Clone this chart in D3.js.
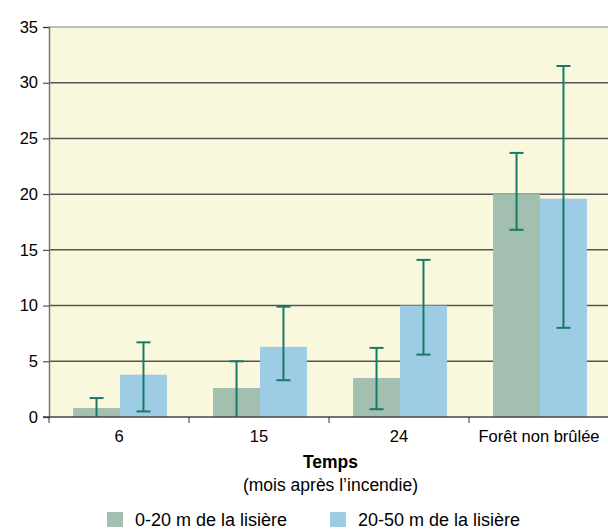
<!DOCTYPE html>
<html>
<head>
<meta charset="utf-8">
<script src="https://cdn.jsdelivr.net/npm/d3@7"></script>
<style>
  body { margin: 0; background: #fff; }
  svg { font-family: "Liberation Sans", Arial, Helvetica, sans-serif; }
</style>
</head>
<body>
<svg id="chart"></svg>
<script>
const categories = ["6", "15", "24", "Forêt non brûlée"];
const seriesNames = ["0-20 m de la lisière", "20-50 m de la lisière"];
const values0_20 = [0.8, 2.6, 3.5, 20.0];
const low0_20 = [0, 0, 0.7, 16.8];
const high0_20 = [1.7, 5.0, 6.2, 23.7];
const values20_50 = [3.8, 6.3, 10.0, 19.6];
const low20_50 = [0.5, 3.3, 5.6, 8.0];
const high20_50 = [6.7, 9.9, 14.1, 31.5];
const yTicks = [0, 5, 10, 15, 20, 25, 30, 35];

const width = 608;
const height = 529;
const margin = { top: 27, right: 0, bottom: 112, left: 49 };
const colors = ["#a3bfb0", "#9ecce4"];
const errColor = "#167a68";

const svg = d3.select("#chart")
    .attr("width", width)
    .attr("height", height);

const x = d3.scaleBand()
    .domain(categories)
    .range([margin.left, width - margin.right + 1])
    .paddingInner(0)
    .paddingOuter(0);

const x1 = d3.scaleBand()
    .domain(seriesNames)
    .range([2, x.bandwidth()])
    .paddingOuter(0.47)
    .paddingInner(0);

const y = d3.scaleLinear()
    .domain([0, 35])
    .range([height - margin.bottom, margin.top]);

// plot background
svg.append("rect")
    .attr("x", margin.left)
    .attr("y", y(35))
    .attr("width", width - margin.left)
    .attr("height", y(0) - y(35))
    .attr("fill", "#faf8dc");

// gridlines
svg.append("g")
    .selectAll("line")
    .data(yTicks.filter(d => d > 0))
    .join("line")
    .attr("x1", margin.left)
    .attr("x2", width)
    .attr("y1", d => y(d))
    .attr("y2", d => y(d))
    .attr("stroke", d => d === 35 ? "#aaa" : "#555")
    .attr("stroke-width", 1.5);

const data = categories.map((c, i) => ({
    cat: c,
    bars: [
        { s: seriesNames[0], v: values0_20[i], lo: low0_20[i], hi: high0_20[i], c: colors[0] },
        { s: seriesNames[1], v: values20_50[i], lo: low20_50[i], hi: high20_50[i], c: colors[1] }
    ]
}));

const groups = svg.append("g")
    .selectAll("g")
    .data(data)
    .join("g")
    .attr("transform", d => `translate(${x(d.cat)},0)`);

groups.selectAll("rect")
    .data(d => d.bars)
    .join("rect")
    .attr("x", d => x1(d.s))
    .attr("y", d => y(d.v))
    .attr("width", x1.bandwidth())
    .attr("height", d => y(0) - y(d.v))
    .attr("fill", d => d.c);

// error bars
const err = groups.selectAll("g.err")
    .data(d => d.bars)
    .join("g")
    .attr("class", "err")
    .attr("stroke", errColor)
    .attr("stroke-width", 2);

err.append("line")
    .attr("x1", d => x1(d.s) + x1.bandwidth() / 2)
    .attr("x2", d => x1(d.s) + x1.bandwidth() / 2)
    .attr("y1", d => y(d.lo))
    .attr("y2", d => y(d.hi));

err.append("line")
    .attr("x1", d => x1(d.s) + x1.bandwidth() / 2 - 7)
    .attr("x2", d => x1(d.s) + x1.bandwidth() / 2 + 7)
    .attr("y1", d => y(d.hi))
    .attr("y2", d => y(d.hi));

err.filter(d => d.lo > 0).append("line")
    .attr("x1", d => x1(d.s) + x1.bandwidth() / 2 - 7)
    .attr("x2", d => x1(d.s) + x1.bandwidth() / 2 + 7)
    .attr("y1", d => y(d.lo))
    .attr("y2", d => y(d.lo));

// y axis
const yAxis = svg.append("g")
    .attr("transform", `translate(${margin.left},0)`)
    .call(d3.axisLeft(y).tickValues(yTicks).tickSize(6).tickPadding(5));
yAxis.select(".domain").attr("stroke", "#777").attr("stroke-width", 1.5);
yAxis.selectAll(".tick line").attr("stroke", "#333");
yAxis.selectAll("text").attr("font-size", 16.5).attr("fill", "#000")
    .attr("font-family", "Liberation Sans, Arial, sans-serif");

// x axis
const xAxisG = svg.append("g")
    .attr("transform", `translate(0,${y(0)})`);
xAxisG.append("line")
    .attr("x1", margin.left - 6)
    .attr("x2", width)
    .attr("stroke", "#444")
    .attr("stroke-width", 1.5);
xAxisG.selectAll("line.tk")
    .data(categories)
    .join("line")
    .attr("class", "tk")
    .attr("x1", d => x(d))
    .attr("x2", d => x(d))
    .attr("y1", 0)
    .attr("y2", 6)
    .attr("stroke", "#333");
xAxisG.selectAll("text")
    .data(categories)
    .join("text")
    .attr("x", d => x(d) + x.bandwidth() / 2)
    .attr("y", 25)
    .attr("text-anchor", "middle")
    .attr("font-size", 16.5)
    .attr("fill", "#000")
    .text(d => d);

const cx = (margin.left + width) / 2 + 2;
svg.append("text")
    .attr("x", cx)
    .attr("y", 468)
    .attr("text-anchor", "middle")
    .attr("font-size", 17.5)
    .attr("font-weight", "bold")
    .attr("fill", "#000")
    .text("Temps");
svg.append("text")
    .attr("x", cx)
    .attr("y", 491)
    .attr("text-anchor", "middle")
    .attr("font-size", 17.5)
    .attr("fill", "#000")
    .text("(mois après l’incendie)");

// legend
const legendX = [107, 330];
const legend = svg.append("g")
    .selectAll("g")
    .data(seriesNames)
    .join("g")
    .attr("transform", (d, i) => `translate(${legendX[i]},512)`);
legend.append("rect")
    .attr("width", 16)
    .attr("height", 15)
    .attr("fill", (d, i) => colors[i]);
legend.append("text")
    .attr("x", 28)
    .attr("y", 14)
    .attr("font-size", 18)
    .attr("fill", "#000")
    .text(d => d);
</script>
</body>
</html>
